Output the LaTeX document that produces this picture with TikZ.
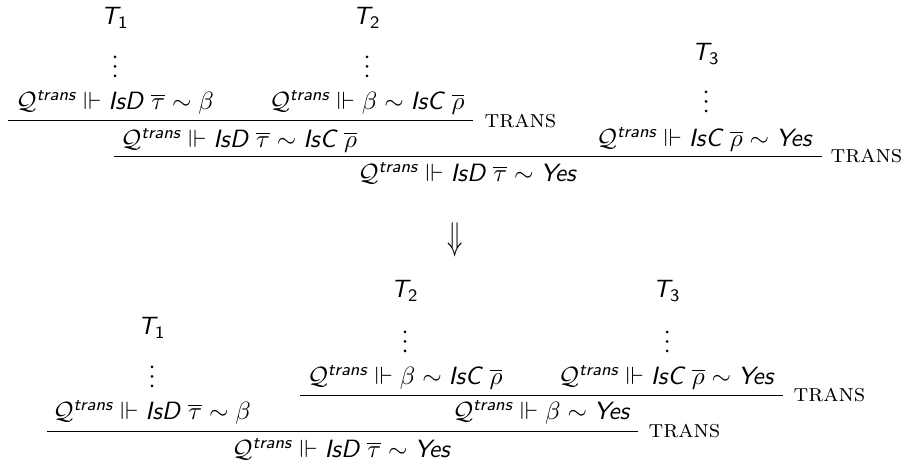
\documentclass[tikz,border=0pt]{standalone}
\usepackage{amsmath,amssymb,graphicx}
\newcommand\sfi[1]{\text{\sffamily\itshape #1}}
\newcommand\Qt{\mathcal{Q}^{\sfi{trans}}\Vdash}
\newcommand\Tn[1]{$\sfi{T}_{\textsf{#1}}$}
% three vertical dots, bottom dot centred on the named coordinate
\newcommand\vdotsat[1]{\foreach \k in {0,1,2}{\fill ([yshift=\k*3.8pt]#1) circle[radius=0.6pt];}}
\tikzset{
  lab/.style={inner sep=0pt, anchor=base},
  rulelab/.style={inner sep=0pt, anchor=base west, font=\scshape},
  rl/.style={line width=0.4pt}
}
\begin{document}
\begin{tikzpicture}[x=0.4pt,y=-0.4pt]
\useasboundingbox (0,0) rectangle (902,466);
% ---------- top tree ----------
\node[lab] (t1) at (115,25) {\Tn{1}};
\coordinate (d1) at (115,76); \vdotsat{d1}
\node[lab] (p1) at (115,110) {$\Qt \sfi{IsD}\ \overline{\tau}\sim\beta$};
\node[lab] (t2) at (367,25) {\Tn{2}};
\coordinate (d2) at (367,76); \vdotsat{d2}
\node[lab] (p2) at (367,110) {$\Qt \beta\sim\sfi{IsC}\ \overline{\rho}$};
\coordinate (l1a) at (8,121); \coordinate (l1b) at (473,121);
\draw[rl] (l1a) -- (l1b);
\node[rulelab] (r1) at (484,128) {trans};
\node[lab] (c1) at (239,148) {$\Qt \sfi{IsD}\ \overline{\tau}\sim\sfi{IsC}\ \overline{\rho}$};
\node[lab] (t3) at (706,61) {\Tn{3}};
\coordinate (d3) at (706,111); \vdotsat{d3}
\node[lab] (p3) at (704,147) {$\Qt \sfi{IsC}\ \overline{\rho}\sim\sfi{Yes}$};
\coordinate (l2a) at (114,157); \coordinate (l2b) at (822,157);
\draw[rl] (l2a) -- (l2b);
\node[rulelab] (r2) at (830,163) {trans};
\node[lab] (c2) at (467,182) {$\Qt \sfi{IsD}\ \overline{\tau}\sim\sfi{Yes}$};
% ---------- arrow ----------
\node[inner sep=0pt] (arr) at (455,240) {\scalebox{1}[1.55]{$\Downarrow$}};
% ---------- bottom tree ----------
\node[lab] (bt1) at (152,335) {\Tn{1}};
\coordinate (bd1) at (152,386); \vdotsat{bd1}
\node[lab] (bp1) at (152,420) {$\Qt \sfi{IsD}\ \overline{\tau}\sim\beta$};
\node[lab] (bt2) at (405,298) {\Tn{2}};
\coordinate (bd2) at (405,351); \vdotsat{bd2}
\node[lab] (bp2) at (405,385) {$\Qt \beta\sim\sfi{IsC}\ \overline{\rho}$};
\node[lab] (bt3) at (667,298) {\Tn{3}};
\coordinate (bd3) at (667,351); \vdotsat{bd3}
\node[lab] (bp3) at (666,385) {$\Qt \sfi{IsC}\ \overline{\rho}\sim\sfi{Yes}$};
\coordinate (l3a) at (300,396); \coordinate (l3b) at (783,396);
\draw[rl] (l3a) -- (l3b);
\node[rulelab] (r3) at (793,402) {trans};
\node[lab] (bc1) at (541,420) {$\Qt \beta\sim\sfi{Yes}$};
\coordinate (l4a) at (47,432); \coordinate (l4b) at (638,432);
\draw[rl] (l4a) -- (l4b);
\node[rulelab] (r4) at (648,437) {trans};
\node[lab] (bc2) at (341,458) {$\Qt \sfi{IsD}\ \overline{\tau}\sim\sfi{Yes}$};
\end{tikzpicture}
\end{document}
